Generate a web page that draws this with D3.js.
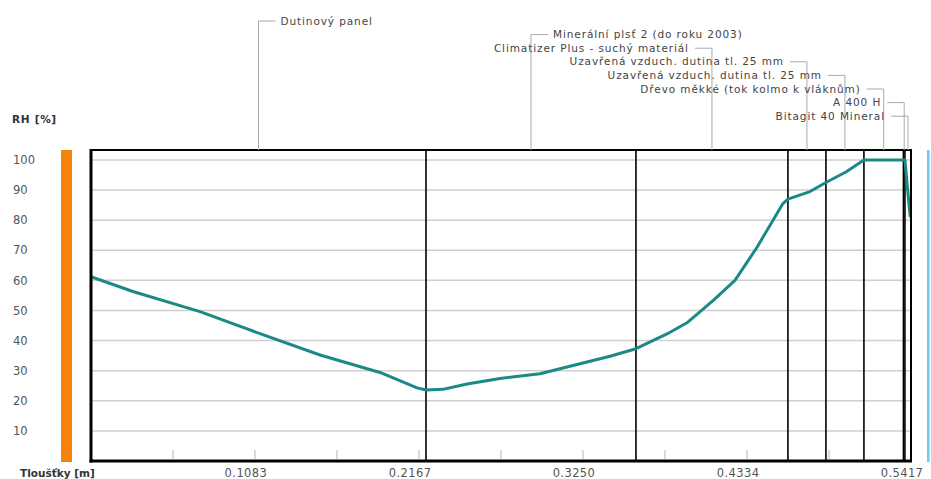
<!DOCTYPE html>
<html><head><meta charset="utf-8">
<script src="https://cdn.jsdelivr.net/npm/d3@7"></script>
<style>body{margin:0;background:#fff}svg{display:block}</style>
</head><body>
<svg id="c" width="931" height="479"></svg>
<script>
// ---- data ----
const thickness = [0, 0.0277, 0.072, 0.1116, 0.1513, 0.1909, 0.2154, 0.2213, 0.2325, 0.2484, 0.2702, 0.2966, 0.323, 0.3429, 0.36, 0.3805, 0.3937, 0.4109, 0.4254, 0.44, 0.4571, 0.4604, 0.475, 0.4855, 0.4987, 0.5106, 0.5377, 0.5395, 0.5412];
const rh =        [61.2, 56.3, 49.6, 42.3, 35.2, 29.4, 24.3, 23.6, 23.8, 25.6, 27.4, 29.0, 32.3, 34.8, 37.3, 42.2, 45.9, 53.3, 60.0, 71.0, 85.5, 87.0, 89.5, 92.5, 96.0, 100, 100, 90, 81];
const layerNames = ["Dutinový panel", "Minerální plsť 2 (do roku 2003)", "Climatizer Plus - suchý materiál", "Uzavřená vzduch. dutina tl. 25 mm", "Uzavřená vzduch. dutina tl. 25 mm", "Dřevo měkké (tok kolmo k vláknům)", "A 400 H", "Bitagit 40 Mineral"];
const layerBounds = [0, 0.2213, 0.36, 0.4604, 0.4855, 0.5106, 0.5367, 0.5377, 0.5417];
const yTicks = [10, 20, 30, 40, 50, 60, 70, 80, 90, 100];
const xTickValues = [0.0542, 0.1083, 0.1625, 0.2167, 0.2708, 0.3250, 0.3792, 0.4334, 0.4875, 0.5417];
const xTickLabels = ["", "0.1083", "", "0.2167", "", "0.3250", "", "0.4334", "", "0.5417"];
const yTitle = "RH [%]";
const xTitle = "Tloušťky [m]";

// ---- layout ----
const svg = d3.select("#c");
const L = 91, R = 911, T = 150, B = 461;
const x = d3.scaleLinear().domain([0, 0.5417]).range([L, R]);
const y = d3.scaleLinear().domain([0, 103.3]).range([B, T]);
const font = "'DejaVu Sans', Verdana, sans-serif";

// side bars
svg.append("rect").attr("x", 61).attr("y", T).attr("width", 11).attr("height", B - T + 1).attr("fill", "#f5820a");
svg.append("rect").attr("x", 927).attr("y", T).attr("width", 2.5).attr("height", B - T + 1).attr("fill", "#6cc8f2");

// grid
svg.append("g").selectAll("line").data(yTicks).join("line")
  .attr("x1", L).attr("x2", R).attr("y1", d => y(d)).attr("y2", d => y(d))
  .attr("stroke", "#cfcfcf").attr("stroke-width", 1.5);

// y tick labels
svg.append("g").selectAll("text").data(yTicks).join("text")
  .attr("x", 13).attr("y", d => y(d)).attr("dy", "0.36em")
  .attr("font-family", font).attr("font-size", 11.5).attr("fill", "#555")
  .text(d => d);

// x minor ticks
svg.append("g").selectAll("line").data(xTickValues).join("line")
  .attr("x1", d => x(d)).attr("x2", d => x(d)).attr("y1", B - 11).attr("y2", B - 2)
  .attr("stroke", "#b5b5b5").attr("stroke-width", 1);

// x tick labels
svg.append("g").selectAll("text").data(xTickValues).join("text")
  .attr("x", d => x(d) - 9).attr("y", 477)
  .attr("text-anchor", "middle").attr("letter-spacing", 0.4)
  .attr("font-family", font).attr("font-size", 11.5).attr("fill", "#555")
  .text((d, i) => xTickLabels[i]);

// titles
svg.append("text").attr("x", 12).attr("y", 123).attr("font-family", font).attr("font-size", 10.5)
  .attr("letter-spacing", 0.7).attr("font-weight", "bold").attr("fill", "#333").text(yTitle);
svg.append("text").attr("x", 20).attr("y", 477).attr("font-family", font).attr("font-size", 10.5)
  .attr("font-weight", "bold").attr("fill", "#333").text(xTitle);

// layer boundaries
svg.append("g").selectAll("line").data(layerBounds.slice(1, -1)).join("line")
  .attr("x1", d => x(d)).attr("x2", d => x(d)).attr("y1", T).attr("y2", B)
  .attr("stroke", "#000").attr("stroke-width", 1.6);

// data line
svg.append("path").datum(thickness.map((t, i) => [t, rh[i]]))
  .attr("d", d3.line().x(d => x(d[0])).y(d => y(d[1])))
  .attr("fill", "none").attr("stroke", "#1b8a85").attr("stroke-width", 3).attr("stroke-linejoin", "round");

// frame
svg.append("line").attr("x1", L).attr("x2", R + 1).attr("y1", T).attr("y2", T).attr("stroke", "#000").attr("stroke-width", 2);
svg.append("line").attr("x1", R).attr("x2", R).attr("y1", T).attr("y2", B).attr("stroke", "#000").attr("stroke-width", 2);
svg.append("line").attr("x1", L - 1.5).attr("x2", R + 1).attr("y1", B).attr("y2", B).attr("stroke", "#000").attr("stroke-width", 3);
svg.append("line").attr("x1", L).attr("x2", L).attr("y1", T - 1).attr("y2", B + 1.5).attr("stroke", "#000").attr("stroke-width", 3);

// leader labels
const labels = layerNames.map((name, i) => {
  const cx = x((layerBounds[i] + layerBounds[i + 1]) / 2);
  const ly = 21 + i * 13.6;
  const left = i < 2;
  return {name, cx, ly, left};
});
const lg = svg.append("g");
lg.selectAll("path").data(labels).join("path")
  .attr("d", d => `M${d.cx},${T} V${d.ly} H${d.left ? d.cx + 17 : d.cx - 17}`)
  .attr("fill", "none").attr("stroke", "#aaa").attr("stroke-width", 1);
lg.selectAll("text").data(labels).join("text")
  .attr("x", d => d.left ? d.cx + 22 : d.cx - 23).attr("y", d => d.ly).attr("dy", "0.35em")
  .attr("text-anchor", d => d.left ? "start" : "end")
  .attr("letter-spacing", 0.9)
  .attr("font-family", font).attr("font-size", 10.5).attr("fill", "#444")
  .text(d => d.name);
</script>
</body></html>
